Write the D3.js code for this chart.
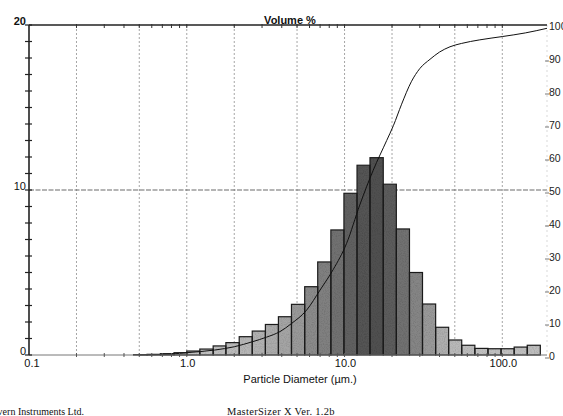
<!DOCTYPE html>
<html><head><meta charset="utf-8">
<script src="https://cdn.jsdelivr.net/npm/d3@7"></script>
<style>body{margin:0;background:#fff;} svg{display:block;}</style>
</head><body>
<svg id="chart" width="563" height="416"></svg>
<script>
// ---- data ----
const sizeEdges = [0.46, 0.56, 0.68, 0.83, 1.0, 1.21, 1.47, 1.77, 2.15, 2.60, 3.15, 3.81, 4.61, 5.59, 6.76, 8.19, 9.91, 12.0, 14.5, 17.6, 21.3, 25.8, 31.2, 37.8, 45.7, 55.3, 67.0, 81.1, 98.2, 118.9, 143.9, 174.2];
const volumePercent = [0.02, 0.04, 0.08, 0.14, 0.24, 0.36, 0.55, 0.75, 1.11, 1.45, 1.85, 2.32, 3.07, 4.14, 5.64, 7.58, 9.8, 11.5, 11.96, 10.35, 7.64, 5.0, 3.09, 1.68, 0.91, 0.59, 0.40, 0.38, 0.38, 0.48, 0.59];
const cumSize = [0.5, 0.8, 1.0, 1.5, 2.0, 2.6, 3.2, 3.9, 4.6, 5.75, 7.0, 8.5, 10.3, 12.5, 15.2, 18.5, 20.4, 23.0, 26.5, 30.0, 34.8, 40.0, 46.6, 55.0, 72.0, 100.0, 140.0, 192.0];
const cumPercent = [0, 0.3, 0.7, 1.5, 2.5, 4.0, 5.4, 7.1, 9.5, 13.6, 19.7, 26.0, 33.8, 45.5, 56.0, 65.0, 69.5, 76.0, 82.8, 86.8, 89.6, 91.8, 93.4, 94.4, 95.5, 96.5, 97.6, 99.0];
const xTickValues = [0.1, 1, 10, 100];
const xTickLabels = ["0.1", "1.0", "10.0", "100.0"];
const gridSizes = [0.2, 0.5, 1, 2, 5, 10, 20, 50, 100];
const leftLabels = [0, 10, 20];
const rightLabels = [0, 10, 20, 30, 40, 50, 60, 70, 80, 90, 100];
const titleText = "Volume %";
const xTitle = "Particle Diameter (µm.)";
const footerLeft = "Malvern Instruments Ltd.";
const footerRight = "MasterSizer X Ver. 1.2b";

// ---- scales ----
const svg = d3.select("#chart");
const x = d3.scaleLog().domain([0.1, 192]).range([29, 547]);
const y = d3.scaleLinear().domain([0, 20]).range([355, 25]);
const yR = d3.scaleLinear().domain([0, 100]).range([355, 25]);
const shade = d3.scaleLinear().domain([0, 4, 12]).range(["#c6c6c6", "#8c8c8c", "#505050"]);
const sans = "'Liberation Sans', Arial, sans-serif";
const serif = "'Liberation Serif', 'Times New Roman', serif";
const [x0, x1] = x.range();
const [yb, yt] = y.range();

// grain filter to imitate the scanned halftone fill
const defs = svg.append("defs");
const f = defs.append("filter").attr("id", "grain")
  .attr("x", 0).attr("y", 0).attr("width", "100%").attr("height", "100%")
  .attr("filterUnits", "objectBoundingBox");
f.append("feTurbulence").attr("type", "fractalNoise").attr("baseFrequency", 0.9)
  .attr("numOctaves", 2).attr("seed", 4).attr("result", "noise");
f.append("feColorMatrix").attr("in", "noise").attr("type", "saturate").attr("values", 0).attr("result", "gn");
const ct = f.append("feComponentTransfer").attr("in", "gn").attr("result", "gm");
["feFuncR", "feFuncG", "feFuncB"].forEach(n => ct.append(n).attr("type", "linear").attr("slope", 0.7).attr("intercept", 0.6));
ct.append("feFuncA").attr("type", "linear").attr("slope", 0).attr("intercept", 1);
f.append("feBlend").attr("in", "SourceGraphic").attr("in2", "gm").attr("mode", "multiply").attr("result", "b");
f.append("feComposite").attr("in", "b").attr("in2", "SourceGraphic").attr("operator", "in");

// ---- grid ----
svg.append("g").selectAll("line").data(gridSizes).join("line")
  .attr("x1", d => x(d)).attr("x2", d => x(d))
  .attr("y1", yt).attr("y2", yb)
  .attr("stroke", "#9c9c9c").attr("stroke-width", 0.9).attr("stroke-dasharray", "2,2");
svg.append("line")
  .attr("x1", x0).attr("x2", x1).attr("y1", y(10)).attr("y2", y(10))
  .attr("stroke", "#6a6a6a").attr("stroke-width", 1.1).attr("stroke-dasharray", "5,1.5");
svg.append("line")
  .attr("x1", x1).attr("x2", x1).attr("y1", yt).attr("y2", yb)
  .attr("stroke", "#cfcfcf").attr("stroke-width", 0.8).attr("stroke-dasharray", "2,3");

// ---- bars ----
const bins = volumePercent.map((v, i) => ({lo: sizeEdges[i], hi: sizeEdges[i + 1], v}));
const barG = svg.append("g");
barG.append("g").attr("filter", "url(#grain)").selectAll("rect").data(bins).join("rect")
  .attr("x", d => x(d.lo)).attr("width", d => x(d.hi) - x(d.lo))
  .attr("y", d => y(d.v)).attr("height", d => y(0) - y(d.v))
  .attr("fill", d => shade(d.v));
barG.append("g").selectAll("rect").data(bins).join("rect")
  .attr("x", d => x(d.lo)).attr("width", d => x(d.hi) - x(d.lo))
  .attr("y", d => y(d.v)).attr("height", d => y(0) - y(d.v))
  .attr("fill", "none")
  .attr("stroke", "#1a1a1a").attr("stroke-width", 1.2);

// ---- cumulative curve ----
const line = d3.line().x(d => x(d[0])).y(d => yR(d[1])).curve(d3.curveMonotoneX);
svg.append("path").datum(cumSize.map((s, i) => [s, cumPercent[i]]))
  .attr("d", line).attr("fill", "none").attr("stroke", "#111").attr("stroke-width", 1);

// ---- axes frame ----
svg.append("line").attr("x1", x0).attr("x2", x1).attr("y1", yt).attr("y2", yt)
  .attr("stroke", "#222").attr("stroke-width", 1.6);
svg.append("line").attr("x1", x0).attr("x2", x1).attr("y1", yb).attr("y2", yb)
  .attr("stroke", "#777").attr("stroke-width", 1);
svg.append("line").attr("x1", x0).attr("x2", x0).attr("y1", yt).attr("y2", yb)
  .attr("stroke", "#222").attr("stroke-width", 1.6);

svg.append("g").selectAll("line").data(y.ticks(20)).join("line")
  .attr("x1", x0 - 4).attr("x2", x0 + 3)
  .attr("y1", d => y(d)).attr("y2", d => y(d))
  .attr("stroke", "#222").attr("stroke-width", 1.2);

const minor = x.ticks().filter(d => d > 0.1 && d < 192);
svg.append("g").selectAll("line").data(minor).join("line")
  .attr("x1", d => x(d)).attr("x2", d => x(d))
  .attr("y1", yt - 1).attr("y2", yt + 3)
  .attr("stroke", "#333").attr("stroke-width", 1);
svg.append("g").selectAll("line").data(minor).join("line")
  .attr("x1", d => x(d)).attr("x2", d => x(d))
  .attr("y1", yb - 2).attr("y2", yb + 2)
  .attr("stroke", "#555").attr("stroke-width", 1);

svg.append("g").selectAll("line").data(rightLabels.slice(0, -1)).join("line")
  .attr("x1", x1 - 2).attr("x2", x1 + 2)
  .attr("y1", d => yR(d) + 3).attr("y2", d => yR(d) + 3)
  .attr("stroke", "#555").attr("stroke-width", 0.8);

// ---- labels ----
svg.append("g").selectAll("text").data(leftLabels).join("text")
  .attr("x", x0 - 3).attr("y", d => y(d))
  .attr("text-anchor", "end")
  .attr("font-family", sans).attr("font-size", 11)
  .attr("font-weight", d => d === 20 ? "bold" : "normal")
  .attr("fill", "#111")
  .text(d => d);

svg.append("g").selectAll("text").data(rightLabels).join("text")
  .attr("x", x1 + 2).attr("y", d => yR(d) + 5)
  .attr("font-family", sans).attr("font-size", 10.5)
  .attr("fill", "#222")
  .text(d => d);

svg.append("g").selectAll("text").data(xTickValues).join("text")
  .attr("x", d => x(d) + (d === 0.1 ? 3 : 1)).attr("y", 367)
  .attr("text-anchor", "middle")
  .attr("font-family", sans).attr("font-size", 11)
  .attr("fill", "#111")
  .text((d, i) => xTickLabels[i]);

svg.append("text").attr("x", 300).attr("y", 383)
  .attr("text-anchor", "middle")
  .attr("font-family", sans).attr("font-size", 11)
  .attr("fill", "#111").text(xTitle);

svg.append("text").attr("x", 290).attr("y", 24)
  .attr("text-anchor", "middle")
  .attr("font-family", sans).attr("font-size", 11).attr("font-weight", "bold")
  .attr("fill", "#111").text(titleText);

svg.append("text").attr("x", 84).attr("y", 415)
  .attr("text-anchor", "end")
  .attr("font-family", serif).attr("font-size", 10)
  .attr("fill", "#111").text(footerLeft);

svg.append("text").attr("x", 227).attr("y", 415)
  .attr("font-family", serif).attr("font-size", 10.5).attr("letter-spacing", 0.3)
  .attr("fill", "#111").text(footerRight);
</script>
</body></html>
